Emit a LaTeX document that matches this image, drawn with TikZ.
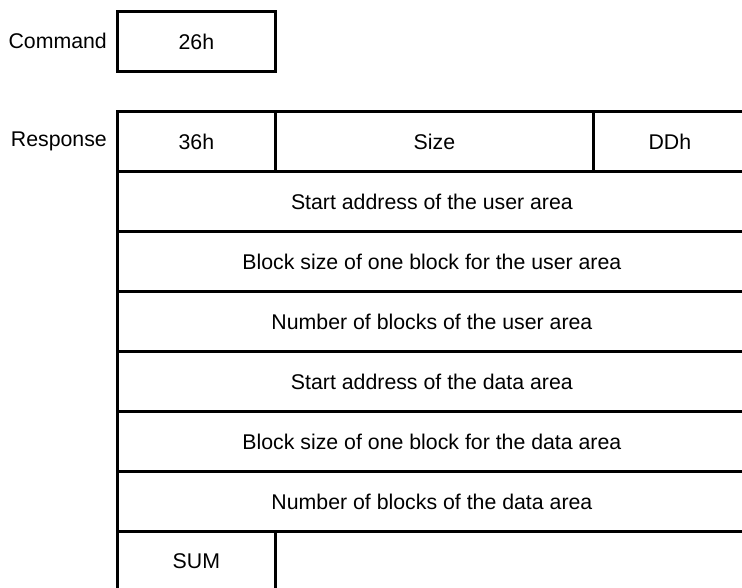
\documentclass[tikz,border=0pt]{standalone}
\usepackage{fontspec}
\setmainfont{Liberation Sans}
\usetikzlibrary{positioning}

\begin{document}
\begin{tikzpicture}[
  x=1pt,y=-1pt,
  cell/.style={draw=black,line width=2.8pt,minimum height=60pt,inner sep=0pt,
               font=\fontsize{21.3}{24}\selectfont,anchor=north west},
  tag/.style={font=\fontsize{21.3}{24}\selectfont,anchor=east,inner sep=0pt}
]
\useasboundingbox (0,0) rectangle (742,587);
% command frame
\node[cell,minimum width=158pt] (cmd) at (116,10) {26h};
\node[tag] (cmdlbl) at (107,41) {Command};

% response frame
\node[cell,minimum width=158pt] (id) at (116,110) {36h};
\node[cell,minimum width=318pt] (size) at (274,110) {Size};
\node[cell,minimum width=153pt] (ddh) at (592,110) {DDh};
\node[tag] (resplbl) at (107,141) {Response};

\node[cell,minimum width=629pt] (ustart) at (116,170) {Start address of the user area};
\node[cell,minimum width=629pt] (ublk) at (116,230) {Block size of one block for the user area};
\node[cell,minimum width=629pt] (unum) at (116,290) {Number of blocks of the user area};
\node[cell,minimum width=629pt] (dstart) at (116,350) {Start address of the data area};
\node[cell,minimum width=629pt] (dblk) at (116,410) {Block size of one block for the data area};
\node[cell,minimum width=629pt] (dnum) at (116,470) {Number of blocks of the data area};

\node[cell,minimum width=158pt] (sum) at (116,530) {SUM};
\node[cell,minimum width=471pt] (rest) at (274,530) {};
\end{tikzpicture}
\end{document}
